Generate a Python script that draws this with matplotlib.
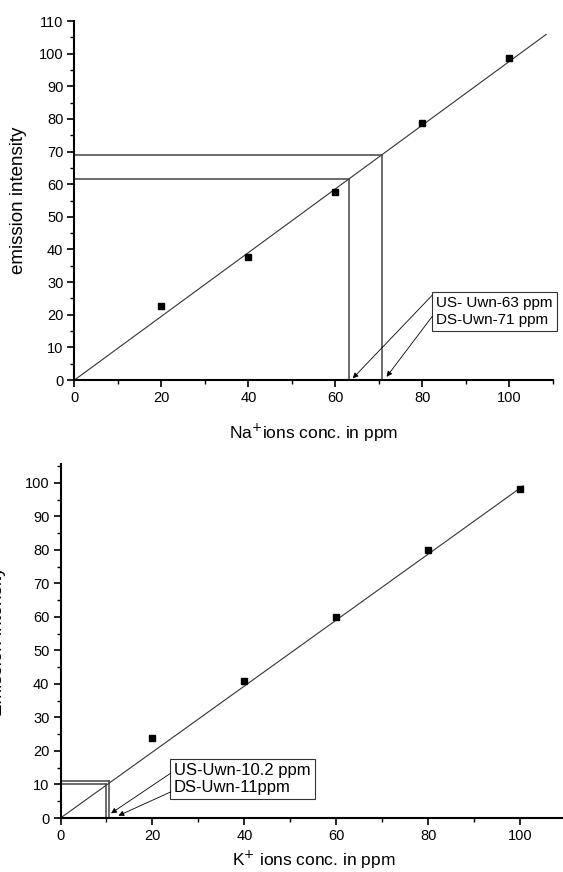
import numpy as np
import matplotlib
matplotlib.use('Agg')
import matplotlib.pyplot as plt
from matplotlib.ticker import MultipleLocator

plt.rcParams['font.family'] = ['Liberation Sans', 'DejaVu Sans']

# Na+ calibration
na_conc = [20, 40, 60, 80, 100]
na_intensity = [22.7, 37.8, 57.6, 78.8, 98.6]
na_slope = 0.976
na_fit_end = 108.5
na_sample_conc = [63.2, 70.8]
na_sample_int = [61.5, 68.8]
na_labels = ['US- Uwn-63 ppm', 'DS-Uwn-71 ppm']

# K+ calibration
k_conc = [20, 40, 60, 80, 100]
k_intensity = [23.9, 40.9, 59.9, 79.9, 98.1]
k_slope = 0.984
k_fit_end = 100.7
k_sample_conc = [9.9, 10.6]
k_sample_int = [10.1, 11.0]
k_labels = ['US-Uwn-10.2 ppm', 'DS-Uwn-11ppm']


def style_axes(ax, xmax, ymax, ystep):
    ax.set_xlim(0, xmax)
    ax.set_ylim(0, ymax)
    for side in ['top', 'right']:
        ax.spines[side].set_visible(False)
    for side in ['left', 'bottom']:
        ax.spines[side].set_linewidth(1.5)
    ax.xaxis.set_major_locator(MultipleLocator(20))
    ax.xaxis.set_minor_locator(MultipleLocator(10))
    ax.yaxis.set_major_locator(MultipleLocator(ystep))
    ax.yaxis.set_minor_locator(MultipleLocator(ystep / 2))
    ax.tick_params(which='major', direction='out', length=5, width=1.2, labelsize=10.5, pad=3)
    ax.tick_params(which='minor', direction='out', length=3, width=1.0)
    ax.set_facecolor('none')


def draw_panel(ax, conc, intensity, slope, fit_end, s_conc, s_int):
    xs = np.array([0, fit_end])
    ax.plot(xs, slope * xs, color='#333333', lw=0.8)
    ax.plot(conc, intensity, 's', color='black', ms=4.5)
    for sx, sy in zip(s_conc, s_int):
        ax.plot([0, sx], [sy, sy], color='#444444', lw=1.1)
        ax.plot([sx, sx], [0, sy], color='#444444', lw=1.1)


def add_box(ax, x, y, labels, starts, targets, fs, spacing):
    ax.text(x, y, '\n'.join(labels), ha='left', va='top', fontsize=fs,
            linespacing=spacing, clip_on=False,
            bbox=dict(boxstyle='square,pad=0.25', fc='white', ec='#333333', lw=0.8))
    for (x0, y0), (x1, y1) in zip(starts, targets):
        ax.annotate('', xy=(x1, y1), xytext=(x0, y0),
                    arrowprops=dict(arrowstyle='-|>', color='black', lw=0.6,
                                    mutation_scale=8, shrinkA=0, shrinkB=0))


fig = plt.figure(figsize=(5.63, 8.72), dpi=100)

ax1 = fig.add_axes([0.1323, 0.5642, 0.8494, 0.4117])
style_axes(ax1, 110, 110, 10)
draw_panel(ax1, na_conc, na_intensity, na_slope, na_fit_end, na_sample_conc, na_sample_int)
add_box(ax1, 83.2, 25.8, na_labels,
        [(82.3, 26.0), (82.3, 19.5)], [(64.0, 0.5), (71.8, 1.0)], 11, 1.3)
ax1.set_xlabel('Na$^{+}$ions conc. in ppm', fontsize=12.5)
ax1.set_ylabel('emission intensity', fontsize=13.5)
ax1.xaxis.set_label_coords(0.5, -0.115)
ax1.yaxis.set_label_coords(-0.100, 0.5)

ax2 = fig.add_axes([0.1075, 0.0619, 0.8979, 0.4056])
style_axes(ax2, 110, 105.5, 10)
draw_panel(ax2, k_conc, k_intensity, k_slope, k_fit_end, k_sample_conc, k_sample_int)
add_box(ax2, 24.7, 16.3, k_labels,
        [(24.0, 13.4), (24.0, 7.8)], [(11.0, 1.4), (12.6, 0.7)], 12, 1.15)
ax2.set_xlabel('K$^{+}$ ions conc. in ppm', fontsize=12.5)
ax2.set_ylabel('Emission intensity', fontsize=13.5)
ax2.xaxis.set_label_coords(0.5, -0.088)
ax2.yaxis.set_label_coords(-0.108, 0.5)

fig.savefig('out.png', dpi=100, facecolor='white')
